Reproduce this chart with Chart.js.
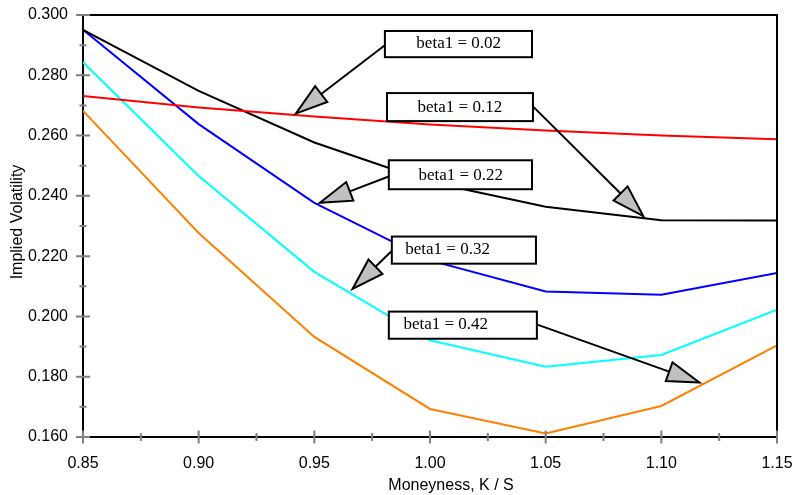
<!DOCTYPE html>
<html>
<head>
<meta charset="utf-8">
<script src="https://cdn.jsdelivr.net/npm/chart.js@4"></script>
<style>
html,body{margin:0;padding:0;background:#ffffff;}
#wrap{width:794px;height:495px;position:relative;}
</style>
</head>
<body>
<div id="wrap"><canvas id="c" width="794" height="495"></canvas></div>
<script>
// ---- data ----
const moneyness = [0.85, 0.90, 0.95, 1.00, 1.05, 1.10, 1.15];
const beta002 = [0.2731, 0.2693, 0.2663, 0.2637, 0.2617, 0.2600, 0.2588];
const beta012 = [0.2951, 0.2748, 0.2577, 0.2446, 0.2364, 0.2319, 0.2318];
const beta022 = [0.2951, 0.2638, 0.2377, 0.2186, 0.2083, 0.2072, 0.2144];
const beta032 = [0.2843, 0.2466, 0.2148, 0.1921, 0.1833, 0.1872, 0.2022];
const beta042 = [0.2682, 0.2277, 0.1932, 0.1693, 0.1612, 0.1703, 0.1904];
const seriesLabels = ['beta1 = 0.02', 'beta1 = 0.12', 'beta1 = 0.22', 'beta1 = 0.32', 'beta1 = 0.42'];
const xTickValues = [0.85, 0.90, 0.95, 1.00, 1.05, 1.10, 1.15];
const xMinorTicks = [0.875, 0.925, 0.975, 1.025, 1.075, 1.125];
const yTickValues = [0.16, 0.18, 0.20, 0.22, 0.24, 0.26, 0.28, 0.30];
const yMinorTicks = [0.17, 0.19, 0.21, 0.23, 0.25, 0.27, 0.29];
const xTitle = 'Moneyness, K / S';
const yTitle = 'Implied Volatility';

// callout annotations (data coordinates)
const callouts = [
  {text: seriesLabels[0], box: [0.9805, 0.2947, 1.0441, 0.2860], textX: 1.0124, from: [0.9812, 0.2904], tip: [0.9420, 0.2673]},
  {text: seriesLabels[1], box: [0.9814, 0.2741, 1.0445, 0.2648], textX: 1.0129, from: [1.0446, 0.2696], tip: [1.0922, 0.2333]},
  {text: seriesLabels[2], box: [0.9822, 0.2518, 1.0441, 0.2422], textX: 1.0133, from: [0.9827, 0.2466], tip: [0.9524, 0.2377]},
  {text: seriesLabels[3], box: [0.9835, 0.2265, 1.0458, 0.2175], textX: 1.0076, from: [0.9841, 0.2222], tip: [0.9665, 0.2091]},
  {text: seriesLabels[4], box: [0.9822, 0.2016, 1.0462, 0.1926], textX: 1.0068, from: [1.0464, 0.1973], tip: [1.1164, 0.1781]}
];

const colors = ['#ff0000', '#000000', '#0000ff', '#00ffff', '#ff8000'];
const series = [beta002, beta012, beta022, beta032, beta042];

const SANS = '"Liberation Sans", Arial, Helvetica, sans-serif';
const SERIF = '"Liberation Serif", "Times New Roman", serif';

const decorPlugin = {
  id: 'decor',
  afterDatasetsDraw(chart) {
    const ctx = chart.ctx;
    const xs = chart.scales.x, ys = chart.scales.y;
    const px = v => xs.getPixelForValue(v);
    const py = v => ys.getPixelForValue(v);
    ctx.save();
    callouts.forEach(c => {
      const sx = px(c.from[0]), sy = py(c.from[1]);
      const tx = px(c.tip[0]), ty = py(c.tip[1]);
      const dx = tx - sx, dy = ty - sy;
      const len = Math.hypot(dx, dy);
      const ux = dx / len, uy = dy / len;
      const hl = 32, hw = 10;
      const bx = tx - ux * hl, by = ty - uy * hl;
      ctx.strokeStyle = '#000';
      ctx.lineWidth = 2;
      ctx.beginPath();
      ctx.moveTo(sx, sy);
      ctx.lineTo(bx, by);
      ctx.stroke();
      ctx.beginPath();
      ctx.moveTo(tx, ty);
      ctx.lineTo(bx - uy * hw, by + ux * hw);
      ctx.lineTo(bx + uy * hw, by - ux * hw);
      ctx.closePath();
      ctx.fillStyle = '#c0c0c0';
      ctx.fill();
      ctx.lineJoin = 'miter';
      ctx.stroke();
    });
    callouts.forEach(c => {
      const x1 = px(c.box[0]), y1 = py(c.box[1]), x2 = px(c.box[2]), y2 = py(c.box[3]);
      ctx.fillStyle = '#ffffff';
      ctx.fillRect(x1, y1, x2 - x1, y2 - y1);
      ctx.strokeStyle = '#000';
      ctx.lineWidth = 2;
      ctx.strokeRect(x1, y1, x2 - x1, y2 - y1);
      ctx.fillStyle = '#000';
      ctx.font = '17px ' + SERIF;
      ctx.textAlign = 'center';
      ctx.textBaseline = 'alphabetic';
      ctx.fillText(c.text, px(c.textX), y2 - 9.5);
    });
    ctx.restore();
  },
  afterDraw(chart) {
    const ctx = chart.ctx;
    const a = chart.chartArea;
    const xs = chart.scales.x, ys = chart.scales.y;
    ctx.save();
    // top and right frame
    ctx.strokeStyle = '#000';
    ctx.lineWidth = 2;
    ctx.beginPath();
    ctx.moveTo(a.left, a.top);
    ctx.lineTo(a.right, a.top);
    ctx.lineTo(a.right, a.bottom);
    ctx.stroke();
    // tick marks crossing the axes
    ctx.strokeStyle = '#808080';
    ctx.lineWidth = 2;
    ctx.beginPath();
    yTickValues.forEach(v => { const y = ys.getPixelForValue(v); ctx.moveTo(a.left - 7, y); ctx.lineTo(a.left + 7, y); });
    yMinorTicks.forEach(v => { const y = ys.getPixelForValue(v); ctx.moveTo(a.left - 3.5, y); ctx.lineTo(a.left + 3.5, y); });
    xTickValues.forEach(v => { const x = xs.getPixelForValue(v); ctx.moveTo(x, a.bottom - 6.5); ctx.lineTo(x, a.bottom + 6.5); });
    xMinorTicks.forEach(v => { const x = xs.getPixelForValue(v); ctx.moveTo(x, a.bottom - 4); ctx.lineTo(x, a.bottom + 4); });
    ctx.stroke();
    // axis titles
    ctx.fillStyle = '#000';
    ctx.font = '16px ' + SANS;
    ctx.textAlign = 'center';
    ctx.textBaseline = 'alphabetic';
    ctx.fillText(xTitle, (a.left + a.right) / 2 + 21, 490);
    ctx.translate(22, (a.top + a.bottom) / 2 - 4);
    ctx.rotate(-Math.PI / 2);
    ctx.fillText(yTitle, 0, 0);
    ctx.restore();
  }
};

const datasets = series.map((s, i) => ({
  label: seriesLabels[i],
  data: moneyness.map((m, j) => ({x: m, y: s[j]})),
  borderColor: colors[i],
  backgroundColor: colors[i],
  borderWidth: 2,
  pointRadius: 0,
  tension: 0,
  fill: false
}));

new Chart(document.getElementById('c'), {
  type: 'line',
  data: {datasets},
  plugins: [decorPlugin],
  options: {
    responsive: false,
    animation: false,
    devicePixelRatio: 1,
    layout: {padding: {left: 0, right: 17, top: 15, bottom: 0}},
    plugins: {legend: {display: false}, tooltip: {enabled: false}},
    scales: {
      x: {
        type: 'linear',
        min: 0.85, max: 1.15,
        afterBuildTicks: s => { s.ticks = xTickValues.map(v => ({value: v})); },
        afterFit: s => { s.height = 58; s.paddingLeft = 0; s.paddingRight = 0; },
        ticks: {
          callback: v => v.toFixed(2),
          color: '#000',
          font: {family: SANS, size: 16},
          padding: 17,
          maxRotation: 0,
          autoSkip: false
        },
        grid: {display: true, drawOnChartArea: false, drawTicks: false},
        border: {display: true, color: '#000', width: 2}
      },
      y: {
        type: 'linear',
        min: 0.16, max: 0.30,
        afterBuildTicks: s => { s.ticks = yTickValues.map(v => ({value: v})); },
        afterFit: s => { s.width = 83; s.paddingTop = 0; s.paddingBottom = 0; },
        ticks: {
          callback: v => v.toFixed(3),
          color: '#000',
          font: {family: SANS, size: 16},
          padding: 15,
          autoSkip: false
        },
        grid: {display: true, drawOnChartArea: false, drawTicks: false},
        border: {display: true, color: '#000', width: 2}
      }
    }
  }
});
</script>
</body>
</html>
